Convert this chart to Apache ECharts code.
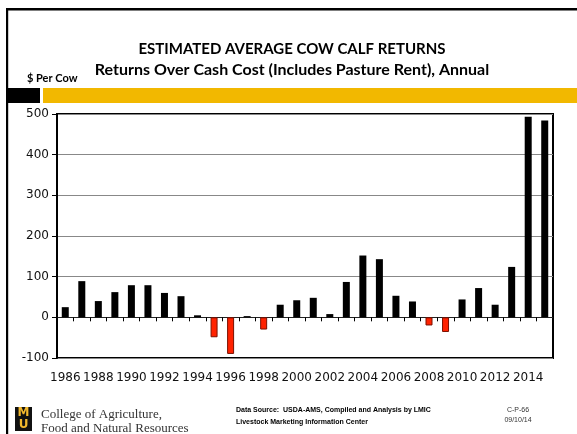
<!DOCTYPE html>
<html><head><meta charset="utf-8">
<script src="https://cdn.jsdelivr.net/npm/echarts@6/dist/echarts.min.js"></script>
<style>html,body{margin:0;padding:0;background:#fff}#c{width:577px;height:434px}</style>
</head><body><div id="c"></div>
<script>
const years = ['1986','1987','1988','1989','1990','1991','1992','1993','1994','1995',
  '1996','1997','1998','1999','2000','2001','2002','2003','2004','2005',
  '2006','2007','2008','2009','2010','2011','2012','2013','2014','2015'];
const returns = [25,89,40,62,79,79,60,52,5,-49,-90,3,-30,31,42,48,8,87,152,143,53,39,-20,-36,44,72,31,124,493,484];
const yTicks = {min:-100, max:500, step:100};
const titleText = 'ESTIMATED AVERAGE COW CALF RETURNS';
const subtitleText = 'Returns Over Cash Cost (Includes Pasture Rent), Annual';
const unitText = '$ Per Cow';
const footerSource = ['Data Source:  USDA-AMS, Compiled and Analysis by LMIC', 'Livestock Marketing Information Center'];
const footerCode = ['C-P-66', '09/10/14'];
const collegeText = ['College of Agriculture,', 'Food and Natural Resources'];

const chart = echarts.init(document.getElementById('c'), null, {renderer:'canvas'});
const barData = returns.map(v => ({
  value: v,
  itemStyle: v < 0 ? {color:'#FF2200', borderColor:'#7a1000', borderWidth:1} : {color:'#000'}
}));
const titleFont = '"Lato", "Open Sans", sans-serif';
chart.setOption({
  animation:false,
  backgroundColor:'#fff',
  grid:{left:57, right:24, top:114, bottom:76, show:true, borderColor:'#000', borderWidth:2, backgroundColor:'transparent'},
  xAxis:[{
    type:'category', data:years, position:'bottom',
    axisLine:{onZero:true, lineStyle:{color:'#222', width:1}},
    axisTick:{show:true, interval:0, length:4, alignWithLabel:false, lineStyle:{color:'#000'}},
    axisLabel:{show:false}
  },{
    type:'category', data:years, position:'bottom',
    axisLine:{show:false, onZero:false}, axisTick:{show:false},
    axisLabel:{interval:1, fontSize:12, color:'#111', margin:14, fontFamily:'"DejaVu Sans", sans-serif'}
  }],
  yAxis:{
    type:'value', min:yTicks.min, max:yTicks.max, interval:yTicks.step,
    axisLine:{show:true, lineStyle:{color:'#000', width:2}},
    axisTick:{show:true, length:5, lineStyle:{color:'#000'}},
    axisLabel:{fontSize:12, color:'#111', margin:8, fontFamily:'"DejaVu Sans", sans-serif'},
    splitLine:{lineStyle:{color:'#888', width:1}}
  },
  series:[{type:'bar', xAxisIndex:0, data:barData, barWidth:7}],
  graphic:[
    {type:'rect', shape:{x:6, y:8, width:571, height:2.5}, style:{fill:'#000'}},
    {type:'rect', shape:{x:6, y:8, width:2.2, height:426}, style:{fill:'#000'}},
    {type:'rect', shape:{x:8, y:88, width:32, height:15}, style:{fill:'#000'}},
    {type:'rect', shape:{x:43, y:88, width:534, height:15}, style:{fill:'#F2B800'}},
    {type:'text', x:292, y:49, style:{text:titleText, font:'bold 15px '+titleFont, fill:'#000', textAlign:'center', textVerticalAlign:'middle'}},
    {type:'text', x:292, y:70, style:{text:subtitleText, font:'bold 16px '+titleFont, fill:'#000', textAlign:'center', textVerticalAlign:'middle'}},
    {type:'text', x:27, y:78, style:{text:unitText, font:'bold 11px '+titleFont, fill:'#000', textAlign:'left', textVerticalAlign:'middle'}},
    {type:'rect', shape:{x:15, y:407, width:17, height:24}, style:{fill:'#111'}},
    {type:'text', x:23.5, y:413, style:{text:'M', font:'bold 12px "DejaVu Sans", sans-serif', fill:'#F1B82D', textAlign:'center', textVerticalAlign:'middle'}},
    {type:'text', x:23.5, y:425, style:{text:'U', font:'bold 12px "DejaVu Sans", sans-serif', fill:'#F1B82D', textAlign:'center', textVerticalAlign:'middle'}},
    {type:'text', x:41, y:415, style:{text:collegeText[0], font:'13px "Liberation Serif", serif', fill:'#333', textAlign:'left', textVerticalAlign:'middle'}},
    {type:'text', x:41, y:429, style:{text:collegeText[1], font:'13px "Liberation Serif", serif', fill:'#333', textAlign:'left', textVerticalAlign:'middle'}},
    {type:'text', x:236, y:410, style:{text:footerSource[0], font:'bold 7px "Liberation Sans", sans-serif', fill:'#000', textAlign:'left', textVerticalAlign:'middle'}},
    {type:'text', x:236, y:422, style:{text:footerSource[1], font:'bold 7px "Liberation Sans", sans-serif', fill:'#000', textAlign:'left', textVerticalAlign:'middle'}},
    {type:'text', x:518, y:410, style:{text:footerCode[0], font:'7px "Liberation Sans", sans-serif', fill:'#333', textAlign:'center', textVerticalAlign:'middle'}},
    {type:'text', x:518, y:420, style:{text:footerCode[1], font:'7px "Liberation Sans", sans-serif', fill:'#333', textAlign:'center', textVerticalAlign:'middle'}}
  ]
});
</script></body></html>
